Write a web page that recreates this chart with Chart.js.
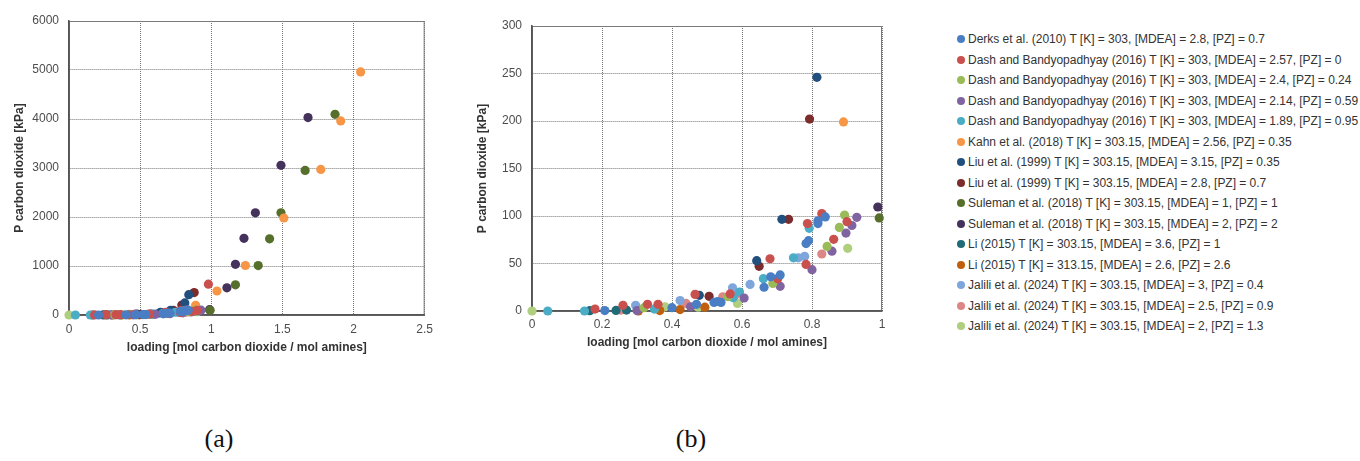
<!DOCTYPE html>
<html>
<head>
<meta charset="utf-8">
<title>CO2 solubility in aqueous MDEA + PZ</title>
<script src="https://cdn.jsdelivr.net/npm/chart.js@4.4.1/dist/chart.umd.min.js"></script>
<style>
  body { margin: 0; background: #fff; width: 1360px; height: 461px; overflow: hidden; position: relative; font-family: "Liberation Sans", Arial, sans-serif; }
  .plot { position: absolute; top: 0; }
  #legend { position: absolute; left: 957px; top: 29px; margin: 0; padding: 0; list-style: none; }
  #legend li { height: 20.5px; display: flex; align-items: center; font-size: 12px; color: #333; white-space: nowrap; letter-spacing: -0.02px; }
  #legend .dot { width: 8px; height: 8px; border-radius: 50%; margin-right: 3px; flex: none; }
  .caption { position: absolute; top: 424px; font-family: "Liberation Serif", "Times New Roman", serif; font-size: 26px; color: #111; transform: translateX(-50%); }
</style>
</head>
<body>
<canvas id="chartA" class="plot" style="left:0" width="440" height="361"></canvas>
<canvas id="chartB" class="plot" style="left:460px" width="440" height="361"></canvas>
<ul id="legend"></ul>
<div class="caption" style="left:219px">(a)</div>
<div class="caption" style="left:691px">(b)</div>
<script>
// [loading (mol CO2 / mol amines), P CO2 (kPa)] per source
const derks2010 = [[0.208, 0.5], [0.40, 3.5], [0.47, 7], [0.52, 9], [0.53, 10], [0.54, 9], [0.663, 25], [0.682, 36], [0.709, 38], [0.783, 71], [0.79, 74], [0.817, 95], [0.817, 92], [0.838, 99]];
const dash257 = [[0.18, 2], [0.26, 6], [0.33, 7], [0.36, 7], [0.466, 17.5], [0.566, 18], [0.68, 55], [0.702, 34], [0.783, 49], [0.787, 92], [0.828, 102.5], [0.862, 75.5], [0.90, 94], [0.98, 630]];
const dash240 = [[0.32, 3.5], [0.56, 15], [0.688, 29], [0.843, 68], [0.878, 88], [0.893, 101]];
const dash214 = [[0.30, 0.5], [0.453, 4.5], [0.606, 13.7], [0.709, 26], [0.80, 43.5], [0.857, 63], [0.897, 82], [0.914, 90], [0.928, 98.6]];
const dash189 = [[0.045, 0], [0.15, 0], [0.35, 2], [0.575, 14], [0.593, 20], [0.661, 34], [0.747, 56], [0.792, 87]];
const kahn2018 = [[0.89, 199], [1.04, 490], [1.24, 1010], [1.51, 1980], [1.77, 2970], [1.91, 3960], [2.05, 4960]];
const liu315 = [[0.478, 16.5], [0.642, 53], [0.714, 96.5], [0.814, 246], [0.842, 415]];
const liu280 = [[0.506, 15.4], [0.649, 47], [0.733, 96.5], [0.793, 202], [0.88, 458]];
const suleman11 = [[0.992, 98], [1.17, 615], [1.33, 1008], [1.41, 1555], [1.49, 2085], [1.66, 2950], [1.87, 4095]];
const suleman22 = [[0.988, 109.5], [1.11, 555], [1.17, 1035], [1.23, 1565], [1.31, 2085], [1.49, 3055], [1.68, 4030]];
const li303 = [[0.165, 0.3], [0.24, 0.6], [0.27, 1]];
const li313 = [[0.304, 0], [0.365, 0.5], [0.423, 1.5], [0.494, 4]];
const jalili30 = [[0.296, 6], [0.423, 11], [0.573, 24.5], [0.623, 28], [0.761, 56], [0.779, 57.5]];
const jalili25 = [[0.254, 1], [0.44, 8], [0.545, 15], [0.583, 17.5], [0.828, 60]];
const jalili20 = [[0, 0], [0.37, 3], [0.38, 4.5], [0.475, 4], [0.587, 8], [0.902, 66]];

const seriesData = [derks2010, dash257, dash240, dash214, dash189, kahn2018, liu315, liu280,
  suleman11, suleman22, li303, li313, jalili30, jalili25, jalili20];

const seriesNames = [
  'Derks et al. (2010) T [K] = 303, [MDEA] = 2.8, [PZ] = 0.7',
  'Dash and Bandyopadhyay (2016) T [K] = 303, [MDEA] = 2.57, [PZ] = 0',
  'Dash and Bandyopadhyay (2016) T [K] = 303, [MDEA] = 2.4, [PZ] = 0.24',
  'Dash and Bandyopadhyay (2016) T [K] = 303, [MDEA] = 2.14, [PZ] = 0.59',
  'Dash and Bandyopadhyay (2016) T [K] = 303, [MDEA] = 1.89, [PZ] = 0.95',
  'Kahn et al. (2018) T [K] = 303.15, [MDEA] = 2.56, [PZ] = 0.35',
  'Liu et al. (1999) T [K] = 303.15, [MDEA] = 3.15, [PZ] = 0.35',
  'Liu et al. (1999) T [K] = 303.15, [MDEA] = 2.8, [PZ] = 0.7',
  'Suleman et al. (2018) T [K] = 303.15, [MDEA] = 1, [PZ] = 1',
  'Suleman et al. (2018) T [K] = 303.15, [MDEA] = 2, [PZ] = 2',
  'Li (2015) T [K] = 303.15, [MDEA] = 3.6, [PZ] = 1',
  'Li (2015) T [K] = 313.15, [MDEA] = 2.6, [PZ] = 2.6',
  'Jalili et al. (2024) T [K] = 303.15, [MDEA] = 3, [PZ] = 0.4',
  'Jalili et al. (2024) T [K] = 303.15, [MDEA] = 2.5, [PZ] = 0.9',
  'Jalili et al. (2024) T [K] = 303.15, [MDEA] = 2, [PZ] = 1.3'
];

const seriesColors = ['#4a7ec4', '#c9504d', '#9bbb59', '#8064a2', '#4bacc6', '#f79646', '#21507f', '#7b2c2b',
  '#56702c', '#45325c', '#1f6b78', '#c0600f', '#7ea6dc', '#dc8686', '#afcf7f'];

const xTicksA = [0, 0.5, 1, 1.5, 2, 2.5];
const yTicksA = [0, 1000, 2000, 3000, 4000, 5000, 6000];
const xTicksB = [0, 0.2, 0.4, 0.6, 0.8, 1];
const yTicksB = [0, 50, 100, 150, 200, 250, 300];

Chart.defaults.font.family = '"Liberation Sans", Arial, sans-serif';
Chart.defaults.font.size = 12;
Chart.defaults.color = '#4d4d4d';

function buildDatasets() {
  return seriesData.map((pts, i) => ({
    label: seriesNames[i],
    data: pts.map(p => ({ x: p[0], y: p[1] })),
    backgroundColor: seriesColors[i],
    borderWidth: 0,
    pointRadius: 4.6,
    pointHoverRadius: 4.6,
    clip: 6 // let edge points show whole, hide the ones off scale
  }));
}

// box line on the top and right, solid axis lines on the left and bottom
const frame = {
  id: 'frame',
  beforeDatasetsDraw(chart) {
    const { ctx, chartArea: a } = chart;
    ctx.save();
    ctx.strokeStyle = '#7a7a7a';
    ctx.lineWidth = 1;
    ctx.beginPath();
    ctx.moveTo(a.left, a.top + 0.5);
    ctx.lineTo(a.right - 0.5, a.top + 0.5);
    ctx.lineTo(a.right - 0.5, a.bottom);
    ctx.stroke();
    ctx.strokeStyle = '#555';
    ctx.lineWidth = 1.6;
    ctx.beginPath();
    ctx.moveTo(a.left, a.top);
    ctx.lineTo(a.left, a.bottom);
    ctx.lineTo(a.right, a.bottom);
    ctx.stroke();
    ctx.restore();
  }
};

function makeScales(g) {
  const grid = { color: '#777', lineWidth: 1, drawTicks: false };
  const border = { color: '#555', width: 1.6, dash: [1, 1] };
  const title = { display: true, color: '#333', font: { weight: 'bold', size: 12 } };
  return {
    x: {
      type: 'linear', min: g.xTicks[0], max: g.xTicks[g.xTicks.length - 1],
      afterBuildTicks: s => { s.ticks = g.xTicks.map(v => ({ value: v })); },
      afterFit: s => { s.height = g.xHeight; },
      ticks: { padding: g.xTickPad, maxRotation: 0, callback: v => String(v) },
      grid, border,
      title: { ...title, text: 'loading [mol carbon dioxide / mol amines]', padding: { top: 0, bottom: g.xTitlePad } }
    },
    y: {
      type: 'linear', min: g.yTicks[0], max: g.yTicks[g.yTicks.length - 1],
      afterBuildTicks: s => { s.ticks = g.yTicks.map(v => ({ value: v })); },
      afterFit: s => { s.width = g.yWidth; },
      ticks: { padding: 10, callback: v => String(v) },
      grid, border,
      title: { ...title, text: 'P carbon dioxide [kPa]', padding: { top: g.yTitlePad, bottom: 0 } }
    }
  };
}

function makeChart(id, g) {
  return new Chart(document.getElementById(id), {
    type: 'scatter',
    data: { datasets: buildDatasets() },
    options: {
      responsive: false,
      animation: false,
      layout: { padding: { top: g.top, right: g.right, left: 0, bottom: 0 } },
      scales: makeScales(g),
      plugins: { legend: { display: false }, tooltip: { enabled: false } }
    },
    plugins: [frame]
  });
}

makeChart('chartA', {
  xTicks: xTicksA, yTicks: yTicksA,
  top: 21, right: 14, xHeight: 46, yWidth: 69,
  xTickPad: 7, xTitlePad: 6, yTitlePad: 12
});

const chartB = makeChart('chartB', {
  xTicks: xTicksB, yTicks: yTicksB,
  top: 26, right: 18, xHeight: 50, yWidth: 72,
  xTickPad: 6, xTitlePad: 11, yTitlePad: 15.5
});

// legend list built from the second chart's datasets
const list = document.getElementById('legend');
chartB.data.datasets.forEach(ds => {
  const li = document.createElement('li');
  const dot = document.createElement('span');
  dot.className = 'dot';
  dot.style.background = ds.backgroundColor;
  li.appendChild(dot);
  li.appendChild(document.createTextNode(ds.label));
  list.appendChild(li);
});
</script>
</body>
</html>
